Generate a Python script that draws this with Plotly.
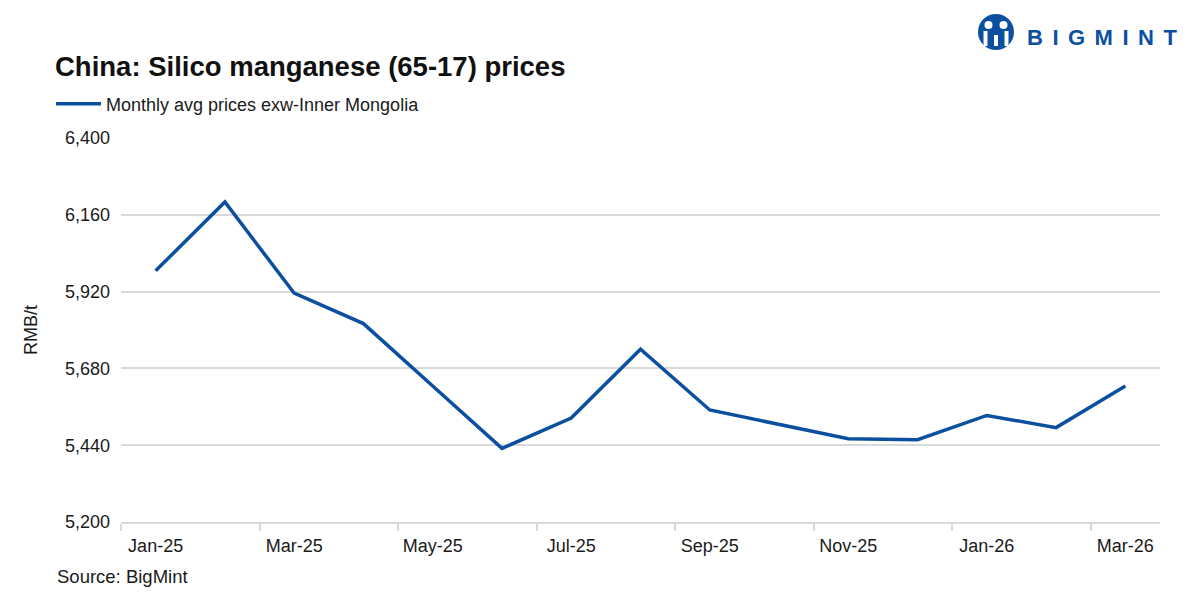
import plotly.graph_objects as go

# ---- data ----
months = ["Jan-25", "Feb-25", "Mar-25", "Apr-25", "May-25", "Jun-25", "Jul-25",
          "Aug-25", "Sep-25", "Oct-25", "Nov-25", "Dec-25", "Jan-26", "Feb-26", "Mar-26"]
prices = [5985, 6200, 5915, 5820, 5625, 5430, 5525, 5740, 5550, 5505, 5460, 5457, 5533, 5495, 5625]
series_name = "Monthly avg prices exw-Inner Mongolia"
title_text = "China: Silico manganese (65-17) prices"
y_title = "RMB/t"
source_text = "Source: BigMint"
y_ticks = [5200, 5440, 5680, 5920, 6160, 6400]

BLUE = "#0B50A0"
GRID = "#D9D9D9"
FONT = "Liberation Sans, Arial, sans-serif"
TXT = "#1A1A1A"

n = len(months)
xs = list(range(n))
label_pos = xs[::2]
label_txt = months[::2]
boundaries = [i - 0.5 for i in label_pos]

fig = go.Figure()
fig.add_trace(go.Scatter(x=xs, y=prices, mode="lines", name=series_name,
                         customdata=months, hovertemplate="%{customdata}: %{y:,}<extra></extra>",
                         line=dict(color=BLUE, width=3.5)))

fig.update_layout(
    width=1200, height=599,
    paper_bgcolor="white", plot_bgcolor="white",
    margin=dict(l=121, r=40, t=138, b=77, autoexpand=False),
    font=dict(family=FONT, size=18, color=TXT),
    title=dict(text="<b>" + title_text + "</b>", x=55 / 1200, xanchor="left", xref="container",
               y=1 - 66 / 599, yanchor="middle", yref="container",
               font=dict(family=FONT, size=27.5, color="#111111")),
    showlegend=True,
    legend=dict(orientation="h", xref="container", yref="container",
                x=51 / 1200, xanchor="left", y=1 - 104 / 599, yanchor="middle",
                font=dict(family=FONT, size=18, color=TXT), itemwidth=45,
                bgcolor="rgba(0,0,0,0)"),
    xaxis=dict(range=[-0.5, n - 0.5], tickmode="array", tickvals=label_pos, ticktext=label_txt,
               showgrid=False, ticks="", showline=True, linecolor=GRID, linewidth=2,
               zeroline=False, ticklabelstandoff=6, tickfont=dict(size=18, color=TXT),
               minor=dict(tickmode="array", tickvals=boundaries, ticks="outside", ticklen=7,
                          tickwidth=2, tickcolor=GRID, showgrid=False)),
    yaxis=dict(range=[y_ticks[0], y_ticks[-1]], tickmode="array", tickvals=y_ticks,
               tickformat=",", showgrid=True, gridcolor=GRID, gridwidth=1.5,
               zeroline=False, showline=False, ticks="", ticklabelstandoff=10,
               tickfont=dict(size=18, color=TXT),
               title=dict(text=y_title, font=dict(size=18, color=TXT), standoff=22)),
)

# source note
fig.add_annotation(text=source_text, xref="paper", yref="paper",
                   x=(55 - 121) / 1039, y=(522 - 576) / 384, xanchor="left", yanchor="middle",
                   showarrow=False, font=dict(family=FONT, size=18.5, color=TXT))

# logo text
fig.add_annotation(text='<b><span style="letter-spacing:9.5px">BIGMINT</span></b>',
                   xref="paper", yref="paper",
                   x=(1025 - 121) / 1039, y=(522 - 38) / 384, xanchor="left", yanchor="middle",
                   showarrow=False, font=dict(family=FONT, size=22, color=BLUE))

# logo icon
ax_ = (996 - 121) / 1039
ay_ = (522 - 32) / 384
def pshape(x0, y0, x1, y1, color, kind="circle"):
    fig.add_shape(type=kind, xref="paper", yref="paper", xsizemode="pixel", ysizemode="pixel",
                  xanchor=ax_, yanchor=ay_, x0=x0, x1=x1, y0=y0, y1=y1,
                  fillcolor=color, line=dict(width=0), layer="above")
pshape(-18, -18, 18, 18, BLUE)
pshape(-11.5, 3, -3.5, 11, "white")
pshape(3.5, 3, 11.5, 11, "white")
pshape(-12.5, -14, -8.5, 1, "white", "rect")
pshape(8.5, -14, 12.5, 1, "white", "rect")
pshape(-2, -14, 2, -3, "white", "rect")

fig.write_html("out.html", config={"displayModeBar": False},
               post_script="document.body.style.margin='0';document.body.style.overflow='hidden';")
